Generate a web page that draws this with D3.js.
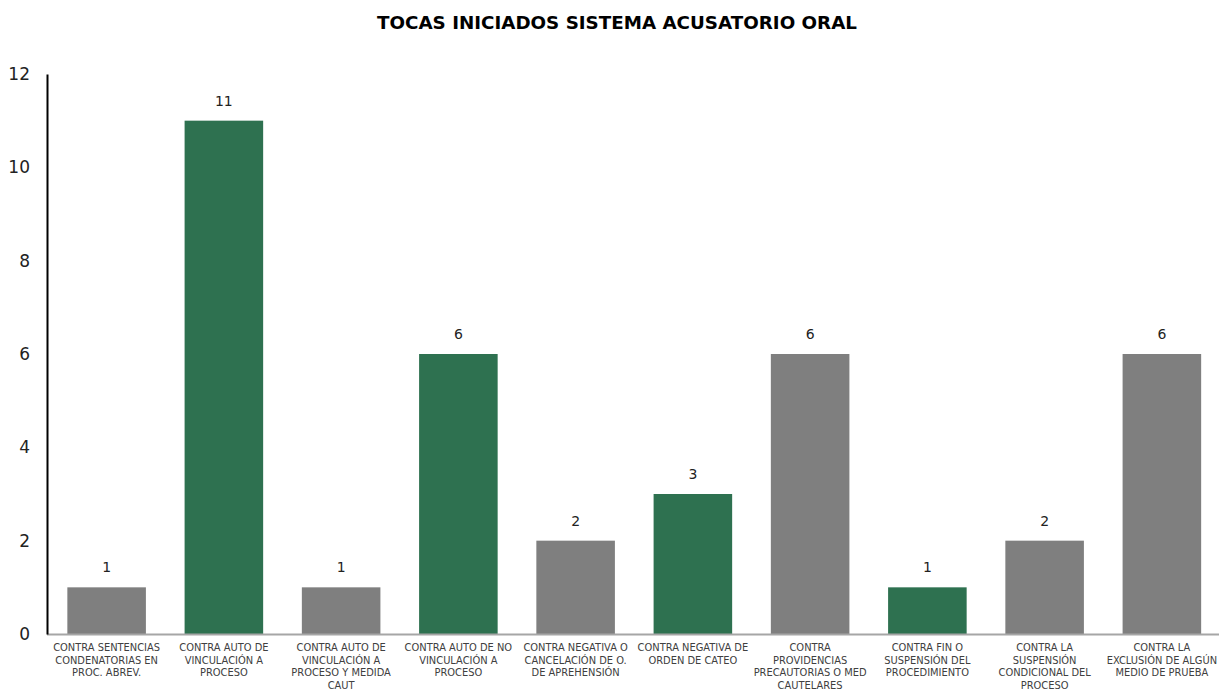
<!DOCTYPE html>
<html><head><meta charset="utf-8">
<script src="https://cdn.jsdelivr.net/npm/d3@7"></script>
<style>body{margin:0;background:#fff;}svg{display:block;}</style>
</head><body>
<svg id="c" width="1219" height="691"></svg>
<script>
const title = "TOCAS INICIADOS SISTEMA ACUSATORIO ORAL";
const categories = [
  "CONTRA SENTENCIAS|CONDENATORIAS EN|PROC. ABREV.",
  "CONTRA AUTO DE|VINCULACIÓN A|PROCESO",
  "CONTRA AUTO DE|VINCULACIÓN A|PROCESO Y MEDIDA|CAUT",
  "CONTRA AUTO DE NO|VINCULACIÓN A|PROCESO",
  "CONTRA NEGATIVA O|CANCELACIÓN DE O.|DE APREHENSIÓN",
  "CONTRA NEGATIVA DE|ORDEN DE CATEO",
  "CONTRA|PROVIDENCIAS|PRECAUTORIAS O MED|CAUTELARES",
  "CONTRA FIN O|SUSPENSIÓN DEL|PROCEDIMIENTO",
  "CONTRA LA|SUSPENSIÓN|CONDICIONAL DEL|PROCESO",
  "CONTRA LA|EXCLUSIÓN DE ALGÚN|MEDIO DE PRUEBA"
];
const values = [1, 11, 1, 6, 2, 3, 6, 1, 2, 6];
const barColors = ["#7F7F7F","#2E7150","#7F7F7F","#2E7150","#7F7F7F","#2E7150","#7F7F7F","#2E7150","#7F7F7F","#7F7F7F"];
const yTicks = [0, 2, 4, 6, 8, 10, 12];

(function(){
const font = "'DejaVu Sans', sans-serif";
const svg = d3.select("#c");
const mLeft = 47, mRight = 1219, mTop = 74, mBottom = 634;

const x = d3.scaleBand().domain(d3.range(categories.length)).range([mLeft + 1, mRight + 1.5])
  .paddingInner(0.33).paddingOuter(0.165);
const y = d3.scaleLinear().domain([0, 12]).range([mBottom, mTop]);

svg.append("text").attr("x", 617).attr("y", 29).attr("text-anchor", "middle")
  .attr("font-family", font).attr("font-weight", "bold").attr("font-size", 18.3)
  .attr("fill", "#000").text(title);

svg.selectAll("rect.bar").data(values).join("rect").attr("class","bar")
  .attr("x", (d,i) => x(i)).attr("width", x.bandwidth())
  .attr("y", d => y(d)).attr("height", d => y(0) - y(d))
  .attr("fill", (d,i) => barColors[i]);

svg.selectAll("text.val").data(values).join("text").attr("class","val")
  .attr("x", (d,i) => x(i) + x.bandwidth()/2).attr("y", d => y(d) - 15)
  .attr("text-anchor","middle").attr("font-family", font).attr("font-size", 14)
  .attr("fill","#222").text(d => d);

svg.append("line").attr("x1", mLeft).attr("x2", mRight).attr("y1", y(0)+0.5).attr("y2", y(0)+0.5)
  .attr("stroke", "#A6A6A6").attr("stroke-width", 2);

const yAxis = d3.axisLeft(y).tickValues(yTicks).tickSize(0).tickPadding(17);
const yg = svg.append("g").attr("transform", `translate(${mLeft},0)`).call(yAxis);
yg.select(".domain").attr("stroke", "#000").attr("stroke-width", 2);
yg.selectAll("text").attr("font-family", font).attr("font-size", 17).attr("fill", "#222");

const cg = svg.selectAll("text.cat").data(categories).join("text").attr("class","cat")
  .attr("x", (d,i) => x(i) + x.bandwidth()/2).attr("y", 651)
  .attr("text-anchor","middle").attr("font-family", font).attr("font-size", 9.9)
  .attr("fill", "#404040");
cg.each(function(d, i){
  const t = d3.select(this);
  d.split("|").forEach((line, k) => {
    t.append("tspan").attr("x", x(i) + x.bandwidth()/2).attr("dy", k === 0 ? 0 : 12.6).text(line);
  });
});
})();
</script>
</body></html>
